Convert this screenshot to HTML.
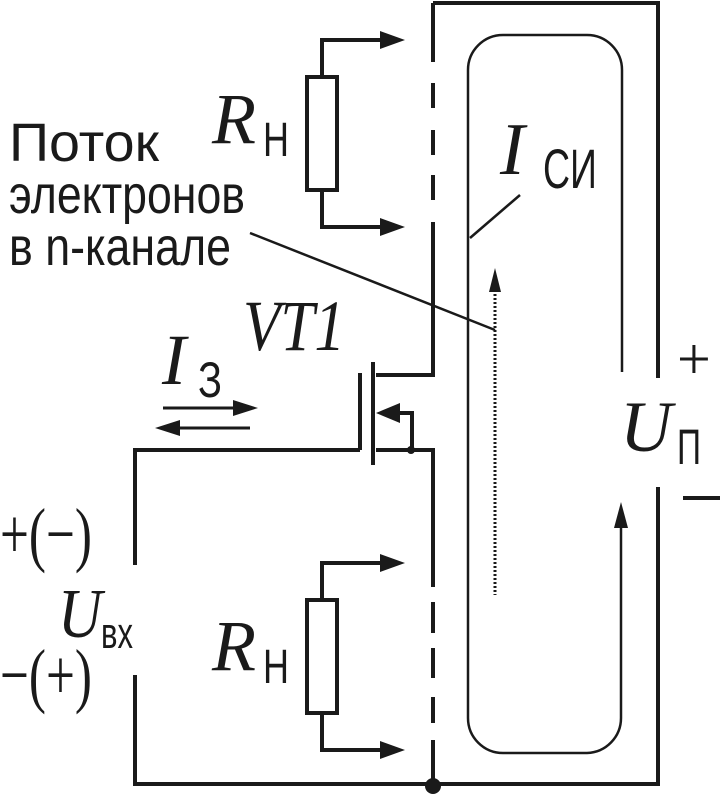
<!DOCTYPE html>
<html><head><meta charset="utf-8"><style>
html,body{margin:0;padding:0;background:#fff;}
svg{display:block;}
.s{font-family:"Liberation Sans","DejaVu Sans",sans-serif;fill:#1a1a1a;}
.r{font-family:"Liberation Serif",serif;font-style:italic;fill:#1a1a1a;}
.p{font-family:"Liberation Serif",serif;fill:#1a1a1a;}
</style></head><body>
<svg width="720" height="797" viewBox="0 0 720 797" xmlns="http://www.w3.org/2000/svg">
<g stroke="#1a1a1a" fill="none" stroke-width="4">
<path d="M433,3H658V378"/>
<path d="M658,487V784H135V675"/>
<path d="M135,565V450H360"/>
<path d="M433,3V62M433,83V108M433,130V155M433,175V200M433,222V375H376"/>
<path d="M376,450H433V587M433,602V633M433,648V678M433,697V723M433,740V786"/>
<path d="M373,362V465"/>
<path d="M360,373V450"/>
<path d="M395,413H412V450"/>
<rect x="307" y="77" width="30" height="113"/>
<rect x="307" y="600" width="30" height="113"/>
<path d="M322,77V40H385M322,190V227H385"/>
<path d="M322,600V563H385M322,713V750H385"/>
<path d="M163,408H240" stroke-width="3"/>
<path d="M250,428H175" stroke-width="3"/>
</g>
<g fill="#1a1a1a">
<path d="M405,40L380,31V49z"/><path d="M405,227L380,218V236z"/>
<path d="M405,563L380,554V572z"/><path d="M405,750L380,741V759z"/>
<path d="M258,408L233,400V416z"/><path d="M155,428L180,420V436z"/>
<path d="M376,413L400,403V423z"/>
<circle cx="411" cy="450" r="4"/>
<circle cx="433" cy="786" r="8"/>
<path d="M621,502L614,528H628z"/>
<path d="M495,268L489,292H501z"/>
</g>
<g stroke="#1a1a1a" fill="none" stroke-width="2.5">
<path d="M622,372V70A35,35 0 0 0 587,35H503A35,35 0 0 0 468,70V718A35,35 0 0 0 503,753H587A35,35 0 0 0 621,718V520"/>
<path d="M470,238L520,195"/>
<path d="M250,233L495,330"/>
<path d="M495,290V595" stroke-dasharray="2,2" stroke-width="3"/>
</g>
<text class="s" font-size="54" x="9" y="161" textLength="150" lengthAdjust="spacingAndGlyphs">Поток</text>
<text class="s" font-size="54" x="9" y="213" textLength="236" lengthAdjust="spacingAndGlyphs">электронов</text>
<text class="s" font-size="54" x="9" y="265" textLength="222" lengthAdjust="spacingAndGlyphs">в n-канале</text>
<text class="r" font-size="72" x="212" y="143" textLength="44" lengthAdjust="spacingAndGlyphs">R</text>
<text class="s" font-size="48" x="263" y="156" textLength="26" lengthAdjust="spacingAndGlyphs">Н</text>
<text class="r" font-size="72" x="212" y="670" textLength="44" lengthAdjust="spacingAndGlyphs">R</text>
<text class="s" font-size="48" x="263" y="683" textLength="26" lengthAdjust="spacingAndGlyphs">Н</text>
<text class="r" font-size="72" x="243" y="350" textLength="102" lengthAdjust="spacingAndGlyphs">VT1</text>
<text class="r" font-size="72" x="162" y="384">I</text>
<text class="s" font-size="50" x="198" y="397" textLength="24" lengthAdjust="spacingAndGlyphs">З</text>
<text class="r" font-size="74" x="500" y="174">I</text>
<text class="s" font-size="56" x="543" y="188" textLength="54" lengthAdjust="spacingAndGlyphs">СИ</text>
<text class="p" font-size="72" x="0" y="558" textLength="92" lengthAdjust="spacingAndGlyphs">+(−)</text>
<text class="r" font-size="70" x="58" y="637" textLength="44" lengthAdjust="spacingAndGlyphs">U</text>
<text class="s" font-size="44" x="101" y="648" textLength="32" lengthAdjust="spacingAndGlyphs">вх</text>
<text class="p" font-size="72" x="0" y="699" textLength="92" lengthAdjust="spacingAndGlyphs">−(+)</text>
<text class="p" font-size="60" x="677" y="379">+</text>
<text class="r" font-size="72" x="620" y="451" textLength="52" lengthAdjust="spacingAndGlyphs">U</text>
<text class="s" font-size="50" x="677" y="464" textLength="24" lengthAdjust="spacingAndGlyphs">П</text>
<path d="M683,498H720" stroke="#1a1a1a" stroke-width="4"/>
</svg>
</body></html>
